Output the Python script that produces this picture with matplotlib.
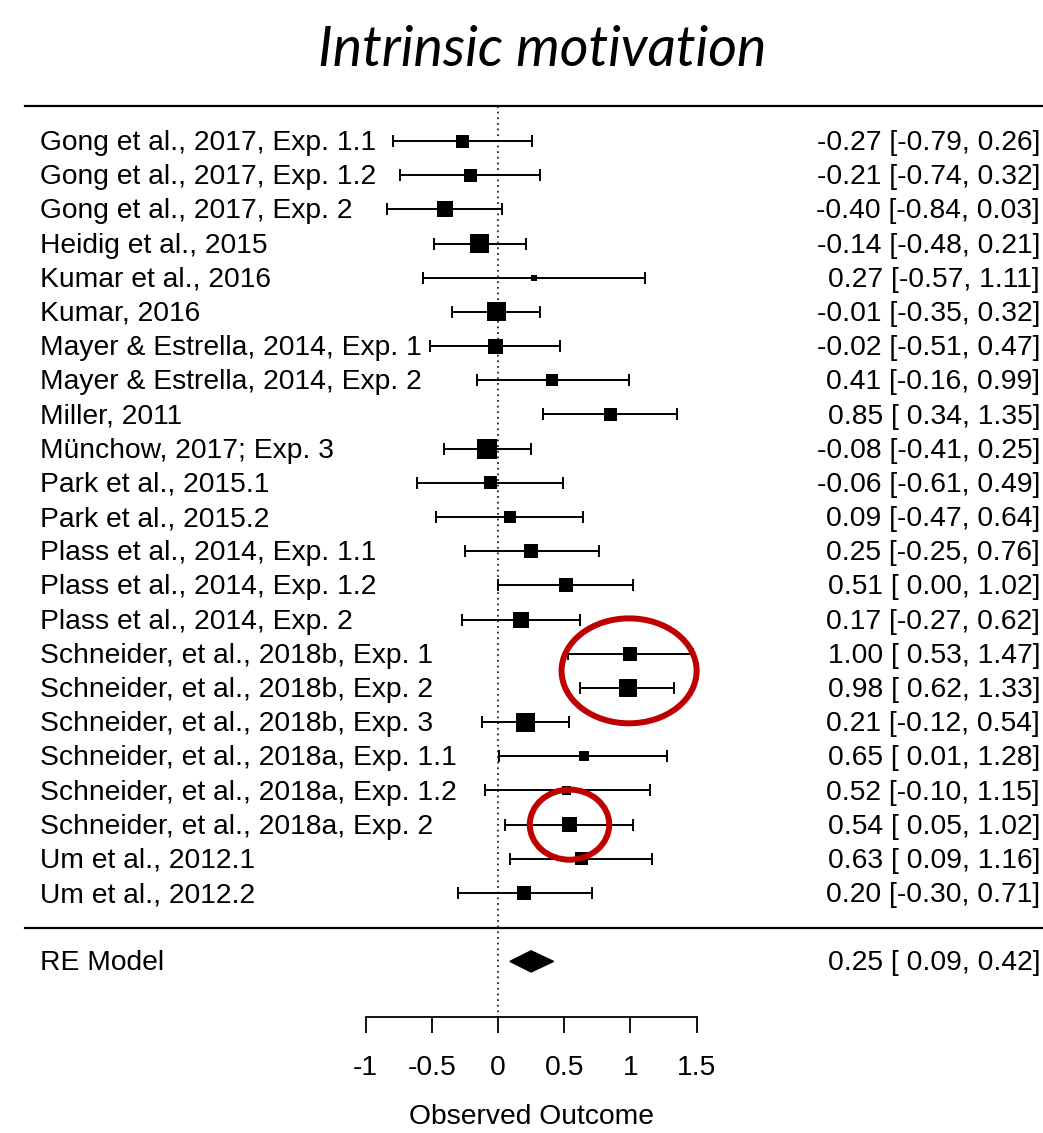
import matplotlib.pyplot as plt
from matplotlib.patches import Ellipse, Polygon

# Data
studies = [
    "Gong et al., 2017, Exp. 1.1",
    "Gong et al., 2017, Exp. 1.2",
    "Gong et al., 2017, Exp. 2",
    "Heidig et al., 2015",
    "Kumar et al., 2016",
    "Kumar, 2016",
    "Mayer & Estrella, 2014, Exp. 1",
    "Mayer & Estrella, 2014, Exp. 2",
    "Miller, 2011",
    "Münchow, 2017; Exp. 3",
    "Park et al., 2015.1",
    "Park et al., 2015.2",
    "Plass et al., 2014, Exp. 1.1",
    "Plass et al., 2014, Exp. 1.2",
    "Plass et al., 2014, Exp. 2",
    "Schneider, et al., 2018b, Exp. 1",
    "Schneider, et al., 2018b, Exp. 2",
    "Schneider, et al., 2018b, Exp. 3",
    "Schneider, et al., 2018a, Exp. 1.1",
    "Schneider, et al., 2018a, Exp. 1.2",
    "Schneider, et al., 2018a, Exp. 2",
    "Um et al., 2012.1",
    "Um et al., 2012.2",
]
est = [-0.27, -0.21, -0.40, -0.14, 0.27, -0.01, -0.02, 0.41, 0.85, -0.08, -0.06, 0.09,
       0.25, 0.51, 0.17, 1.00, 0.98, 0.21, 0.65, 0.52, 0.54, 0.63, 0.20]
ci_lo = [-0.79, -0.74, -0.84, -0.48, -0.57, -0.35, -0.51, -0.16, 0.34, -0.41, -0.61, -0.47,
         -0.25, 0.00, -0.27, 0.53, 0.62, -0.12, 0.01, -0.10, 0.05, 0.09, -0.30]
ci_hi = [0.26, 0.32, 0.03, 0.21, 1.11, 0.32, 0.47, 0.99, 1.35, 0.25, 0.49, 0.64,
         0.76, 1.02, 0.62, 1.47, 1.33, 0.54, 1.28, 1.15, 1.02, 1.16, 0.71]
# relative weights (square size)
weights = [13, 13, 16, 19, 6, 19, 15, 12, 13, 20, 13, 12, 14, 14, 16, 14, 18, 19, 10, 9, 15, 13, 14]

re_est, re_lo, re_hi = 0.25, 0.09, 0.42
ticks = [-1, -0.5, 0, 0.5, 1, 1.5]
highlight_groups = [[15, 16], [20]]

plt.rcParams['font.family'] = ['Liberation Sans', 'DejaVu Sans']
FS = 20.3

fig = plt.figure(figsize=(10.43, 11.33), dpi=100)
ax = fig.add_axes([0, 0, 1, 1])
ppu = 132.4
ax.set_xlim(-498 / ppu, (1043 - 498) / ppu)
ax.set_ylim(29.02, -4.125)

n = len(studies)
rows = list(range(n))
re_row = n + 1
top_row = -1.02
sep_row = n + 0.03
axis_row = n + 2.63

trans = ax.get_yaxis_transform()

# horizontal rules
for r in [top_row, sep_row]:
    ax.plot([25 / 1043, 1], [r, r], transform=trans, color="black", lw=1.6, clip_on=False)

# reference line at 0
ax.plot([0, 0], [top_row, axis_row], color="black", lw=1.1, ls=(0, (1.2, 2.5)))

# CIs and squares
ax.errorbar(est, rows, xerr=[[e - l for e, l in zip(est, ci_lo)], [h - e for e, h in zip(est, ci_hi)]],
            fmt="none", ecolor="black", elinewidth=1.4, capsize=4.6, capthick=1.4, zorder=2)
ax.scatter(est, rows, marker="s", s=[(w * 0.72) ** 2 for w in weights], color="black",
           linewidths=0, zorder=3)

# labels and values
for i in rows:
    ax.text(40 / 1043, i + 0.06, studies[i], transform=trans, ha="left", va="center", fontsize=FS)
    ax.text(1040 / 1043, i + 0.06, f"{est[i]:.2f} [{ci_lo[i]:5.2f}, {ci_hi[i]:.2f}]",
            transform=trans, ha="right", va="center", fontsize=FS)

# RE model
ax.add_patch(Polygon([(re_lo, re_row), (re_est, re_row - 0.31), (re_hi, re_row), (re_est, re_row + 0.31)],
                     closed=True, color="black", zorder=3))
ax.text(40 / 1043, re_row + 0.06, "RE Model", transform=trans, ha="left", va="center", fontsize=FS)
ax.text(1040 / 1043, re_row + 0.06, f"{re_est:.2f} [{re_lo:5.2f}, {re_hi:.2f}]",
        transform=trans, ha="right", va="center", fontsize=FS)

# highlight ellipses
sizes = [(1.02, 3.07), (0.60, 2.05)]
for grp, (w, h) in zip(highlight_groups, sizes):
    cx = sum(est[g] for g in grp) / len(grp)
    cy = sum(grp) / len(grp)
    ax.add_patch(Ellipse((cx, cy), w, h, fill=False, edgecolor="#C00000", lw=4.3, zorder=4))

# x axis
for s in ["top", "left", "right"]:
    ax.spines[s].set_visible(False)
ax.spines["bottom"].set_position(("data", axis_row))
ax.spines["bottom"].set_bounds(ticks[0], ticks[-1])
ax.spines["bottom"].set_linewidth(1.3)
ax.set_xticks(ticks)
ax.set_xticklabels([f"{t:g}" for t in ticks])
ax.tick_params(axis="x", direction="out", length=11.5, width=1.3, labelsize=FS, pad=16)
ax.set_yticks([])
ax.patch.set_visible(False)
ax.text((ticks[0] + ticks[-1]) / 2, 28.55, "Observed Outcome", ha="center", va="center", fontsize=FS)

fig.text(542 / 1043, 1 - 50 / 1133, "Intrinsic motivation", ha="center", va="center",
         fontsize=40, style="italic", family="Lato")

fig.savefig("out.png", dpi=100)
